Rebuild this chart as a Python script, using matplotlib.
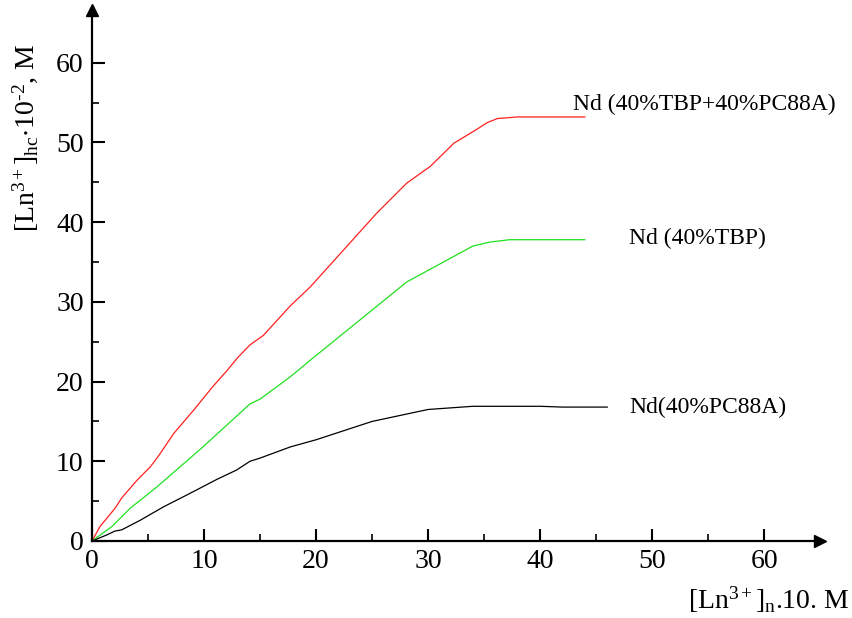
import numpy as np
from matplotlib import pyplot as plt
from matplotlib.ticker import MultipleLocator

plt.rcParams['font.family'] = ['Liberation Serif', 'DejaVu Serif']
plt.rcParams['mathtext.fontset'] = 'custom'
plt.rcParams['mathtext.rm'] = 'Liberation Serif'
plt.rcParams['mathtext.it'] = 'Liberation Serif:italic'
plt.rcParams['mathtext.default'] = 'regular'

# Nd (40%TBP+40%PC88A)
x_mix = [0, 0.7, 2.05, 2.65, 4, 5.2, 6, 7.3, 9, 10.8, 12, 13, 14.1, 15.3, 17.7, 19.5, 25.4, 28.1, 30.2, 32.3, 34.3, 35.3, 36.2, 38, 44]
y_mix = [0, 1.8, 4.1, 5.4, 7.6, 9.3, 10.8, 13.5, 16.3, 19.4, 21.3, 23, 24.6, 25.8, 29.5, 31.9, 41.1, 44.9, 47.0, 49.9, 51.6, 52.5, 53, 53.2, 53.2]

# Nd (40%TBP)
x_tbp = [0, 1.76, 2.65, 3.4, 5.8, 9.9, 14.1, 15, 17.7, 19.5, 28.1, 34, 35.5, 37.3, 44]
y_tbp = [0, 1.8, 3.05, 4.1, 6.8, 11.8, 17.2, 17.8, 20.6, 22.7, 32.5, 37, 37.5, 37.8, 37.8]

# Nd(40%PC88A)
x_pc = [0, 1.3, 2.05, 2.65, 4.3, 6.4, 8.5, 9.6, 11.1, 12.9, 14.1, 15, 17.7, 20, 25, 30, 34, 38, 40, 42, 46]
y_pc = [0, 0.75, 1.25, 1.4, 2.6, 4.3, 5.8, 6.6, 7.7, 8.9, 10, 10.4, 11.8, 12.7, 15, 16.5, 16.9, 16.9, 16.9, 16.8, 16.8]

labels = ['Nd (40%TBP+40%PC88A)', 'Nd (40%TBP)', 'Nd(40%PC88A)']
label_pos = [(42.9, 54.8), (47.9, 38.0), (48.0, 16.8)]

fig = plt.figure(figsize=(8.53, 6.18), dpi=100)
ax = fig.add_axes([0.1079, 0.1246, 0.8535, 0.859])

ax.plot(x_mix, y_mix, c='#ff2020', lw=0.9)
ax.plot(x_tbp, y_tbp, c='#20e020', lw=0.9)
ax.plot(x_pc, y_pc, c='black', lw=0.9)

for txt, (tx, ty) in zip(labels, label_pos):
	ax.text(tx, ty, txt, fontsize=17, va='center', ha='left')

ax.set_xlim(0, 65)
ax.set_ylim(0, 66.6)
ax.set_xticks(range(0, 61, 10))
ax.set_yticks(range(0, 61, 10))
ax.set_xticks(range(5, 61, 10), minor=True)
ax.set_yticks(range(5, 61, 10), minor=True)

for s in ['top', 'right']:
	ax.spines[s].set_visible(False)
for s in ['left', 'bottom']:
	ax.spines[s].set_linewidth(1.6)

ax.tick_params(which='major', direction='in', length=9, width=1.5, labelsize=20, pad=6)
ax.tick_params(which='minor', direction='in', length=5, width=1.2)

# arrow heads on the axes
ax.plot(1, 0, '>k', ms=9, transform=ax.transAxes, clip_on=False)
ax.plot(0, 1, '^k', ms=9, transform=ax.transAxes, clip_on=False)

ax.set_ylabel('[Ln$^{3+}$]$_{hc}$$\\cdot$10$^{\u20102}$, M', fontsize=20, labelpad=6)
ax.yaxis.set_label_coords(-0.072, 0.76)
ax.text(1.04, -0.14, '[Ln$^{3+}$]$_{n}$.10. M', transform=ax.transAxes,
	fontsize=20, ha='right', va='bottom')

fig.savefig('out.png', dpi=100)
